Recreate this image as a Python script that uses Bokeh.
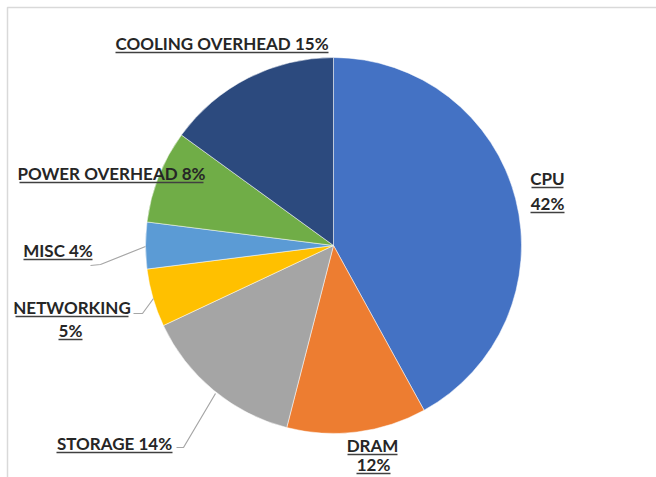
import math
from bokeh.plotting import figure
from bokeh.models import Range1d
from bokeh.core.properties import value
from bokeh.embed import file_html
from bokeh.resources import INLINE

# ---- data ----
categories = ["CPU", "DRAM", "STORAGE", "NETWORKING", "MISC", "POWER OVERHEAD", "COOLING OVERHEAD"]
shares = [42, 12, 14, 5, 4, 8, 15]
colors = ["#4472C4", "#ED7D31", "#A5A5A5", "#FFC000", "#5B9BD5", "#70AD47", "#2C4A7E"]
two_line = ["CPU", "DRAM", "NETWORKING"]

# ---- layout (pixel space, y down) ----
W, H = 656, 477
CX, CY, R = 333, 245, 188
label_pos = {
    "CPU": [(547, 178, 531, 563), (547, 203, 530, 564)],
    "DRAM": [(372, 445, 347, 397), (373, 464, 356, 390)],
    "STORAGE": [(114, 443, 56, 172)],
    "NETWORKING": [(71.5, 307, 15, 128), (70, 330, 58, 82)],
    "MISC": [(57.5, 250, 23, 92)],
    "POWER OVERHEAD": [(111, 173, 19, 203)],
    "COOLING OVERHEAD": [(221.5, 43, 115, 328)],
}
leaders = {
    "MISC": [(90, 265), (100, 264), (145, 246)],
    "NETWORKING": [(133, 313), (142, 313), (153, 298)],
    "STORAGE": [(176, 447), (183, 447), (215, 393)],
}

def fy(y):
    return H - y

p = figure(width=W, height=H, x_range=Range1d(0, W), y_range=Range1d(0, H),
           output_backend="svg", toolbar_location=None, min_border=0)
p.axis.visible = False
p.grid.visible = False
p.outline_line_color = None
p.background_fill_color = "white"
p.border_fill_color = "white"

# frame
p.line([7, 7, W + 5], [fy(H + 5), fy(7), fy(7)], line_color="#D9D9D9", line_width=1.5)

# wedges
total = sum(shares)
starts, ends = [], []
cum = 0
for s in shares:
    starts.append(math.pi / 2 - 2 * math.pi * cum / total)
    cum += s
    ends.append(math.pi / 2 - 2 * math.pi * cum / total)
p.wedge(x=[CX] * len(shares), y=[fy(CY)] * len(shares), radius=R,
        start_angle=starts, end_angle=ends, direction="clock",
        fill_color=colors, line_color="white", line_width=0.5)

# leader lines
for cat, pts in leaders.items():
    p.line([q[0] for q in pts], [fy(q[1]) for q in pts], line_color="#A6A6A6", line_width=1.2)

# labels
xs, ys, texts = [], [], []
ux0, ux1, uy = [], [], []
for cat, s in zip(categories, shares):
    lines = [cat, f"{s}%"] if cat in two_line else [f"{cat} {s}%"]
    for txt, (x, y, x0, x1) in zip(lines, label_pos[cat]):
        xs.append(x); ys.append(fy(y)); texts.append(txt)
        ux0.append(x0); ux1.append(x1); uy.append(fy(y + 9))
p.text(x=xs, y=ys, text=texts, text_font=value("Lato"), text_font_style="bold",
       text_font_size="17px", text_align="center", text_baseline="middle", text_color="#262626")
p.segment(x0=ux0, y0=uy, x1=ux1, y1=uy, line_color="#404040", line_width=1.5)

open("out.html", "w").write(file_html(p, INLINE))
